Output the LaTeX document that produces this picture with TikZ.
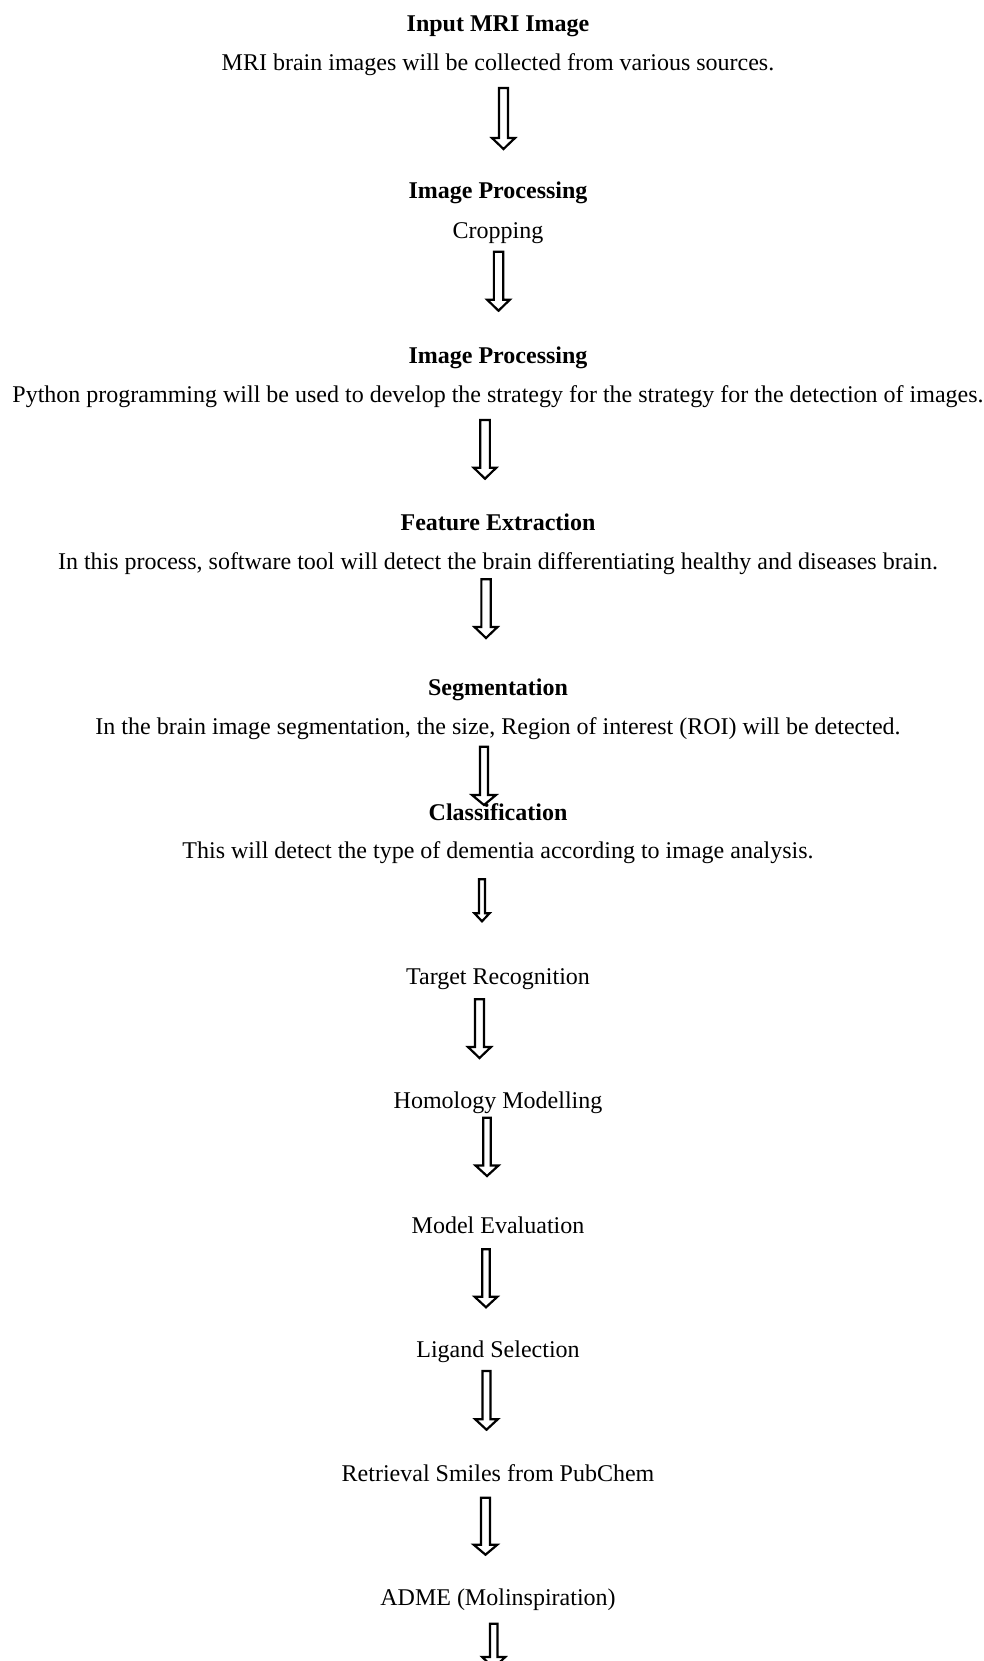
\documentclass[tikz,border=0pt]{standalone}
\usepackage{fontspec}
\setmainfont{Liberation Serif}
\usetikzlibrary{calc}
\tikzset{
  lbl/.style={inner sep=0pt, font=\fontsize{24}{28}\selectfont, anchor=base},
  hd/.style={lbl, font=\fontsize{24}{28}\selectfont\bfseries},
  blk/.style={draw=black, line width=2.2pt, line join=miter, miter limit=10}
}
% name, x, ytop, ytip, shaft width, head width, head height
\newcommand{\blockarrow}[7]{%
  \coordinate (#1s) at (#2,#3);
  \coordinate (#1e) at (#2,#4);
  \draw[blk] ($(#1s)+({-(#5)/2},0)$) -- ($(#1s)+({(#5)/2},0)$)
    -- ($(#1e)+({(#5)/2},-#7)$) -- ($(#1e)+({(#6)/2},-#7)$)
    -- (#1e) -- ($(#1e)+({-(#6)/2},-#7)$) -- ($(#1e)+({-(#5)/2},-#7)$) -- cycle;
}
\begin{document}
\begin{tikzpicture}[x=1pt,y=-1pt]
\useasboundingbox (0,0) rectangle (984,1661);
\clip (0,0) rectangle (984,1661);
\fill[white] (0,0) rectangle (984,1661);

\node[hd]  (t1)  at (498,31.5)  {Input MRI Image};
\node[lbl] (t2)  at (498,71)    {MRI brain images will be collected from various sources.};
\node[hd]  (t3)  at (498,199)   {Image Processing};
\node[lbl] (t4)  at (498,238.3) {Cropping};
\node[hd]  (t5)  at (498,363.3) {Image Processing};
\node[lbl] (t6)  at (498,402.5) {Python programming will be used to develop the strategy for the strategy for the detection of images.};
\node[hd]  (t7)  at (498,530.4) {Feature Extraction};
\node[lbl] (t8)  at (498,569.8) {In this process, software tool will detect the brain differentiating healthy and diseases brain.};
\node[hd]  (t9)  at (498,695.8) {Segmentation};
\node[lbl] (t10) at (498,734.4) {In the brain image segmentation, the size, Region of interest (ROI) will be detected.};
\node[hd]  (t11) at (498,820)   {Classification};
\node[lbl] (t12) at (498,858.9) {This will detect the type of dementia according to image analysis.};
\node[lbl] (t13) at (498,984.6) {Target Recognition};
\node[lbl] (t14) at (498,1108.8) {Homology Modelling};
\node[lbl] (t15) at (498,1233.4) {Model Evaluation};
\node[lbl] (t16) at (498,1357.3) {Ligand Selection};
\node[lbl] (t17) at (498,1481.7) {Retrieval Smiles from PubChem};
\node[lbl] (t18) at (498,1605.7) {ADME (Molinspiration)};

\blockarrow{a1}{503.5}{88}{149}{9}{23}{11}
\blockarrow{a2}{498.5}{251.7}{310.7}{9.3}{22.7}{11}
\blockarrow{a3}{485}{420}{478.7}{9.7}{22.6}{11}
\blockarrow{a4}{486}{579.3}{638}{9.3}{23}{11}
\blockarrow{a5}{484}{746.7}{805}{8}{24}{10}
\blockarrow{a6}{482}{879.3}{921.3}{6}{15}{8}
\blockarrow{a7}{479.5}{999.3}{1058}{9}{23}{11}
\blockarrow{a8}{487}{1117.7}{1176}{7.5}{23}{10.5}
\blockarrow{a9}{486}{1249.3}{1307.3}{7.5}{22.6}{10.5}
\blockarrow{a10}{486.5}{1371}{1429.7}{8}{22.7}{10.5}
\blockarrow{a11}{485.5}{1497.7}{1554.7}{9}{23.6}{10}
\blockarrow{a12}{493.7}{1623.7}{1668}{7.5}{23}{11}
\end{tikzpicture}
\end{document}
